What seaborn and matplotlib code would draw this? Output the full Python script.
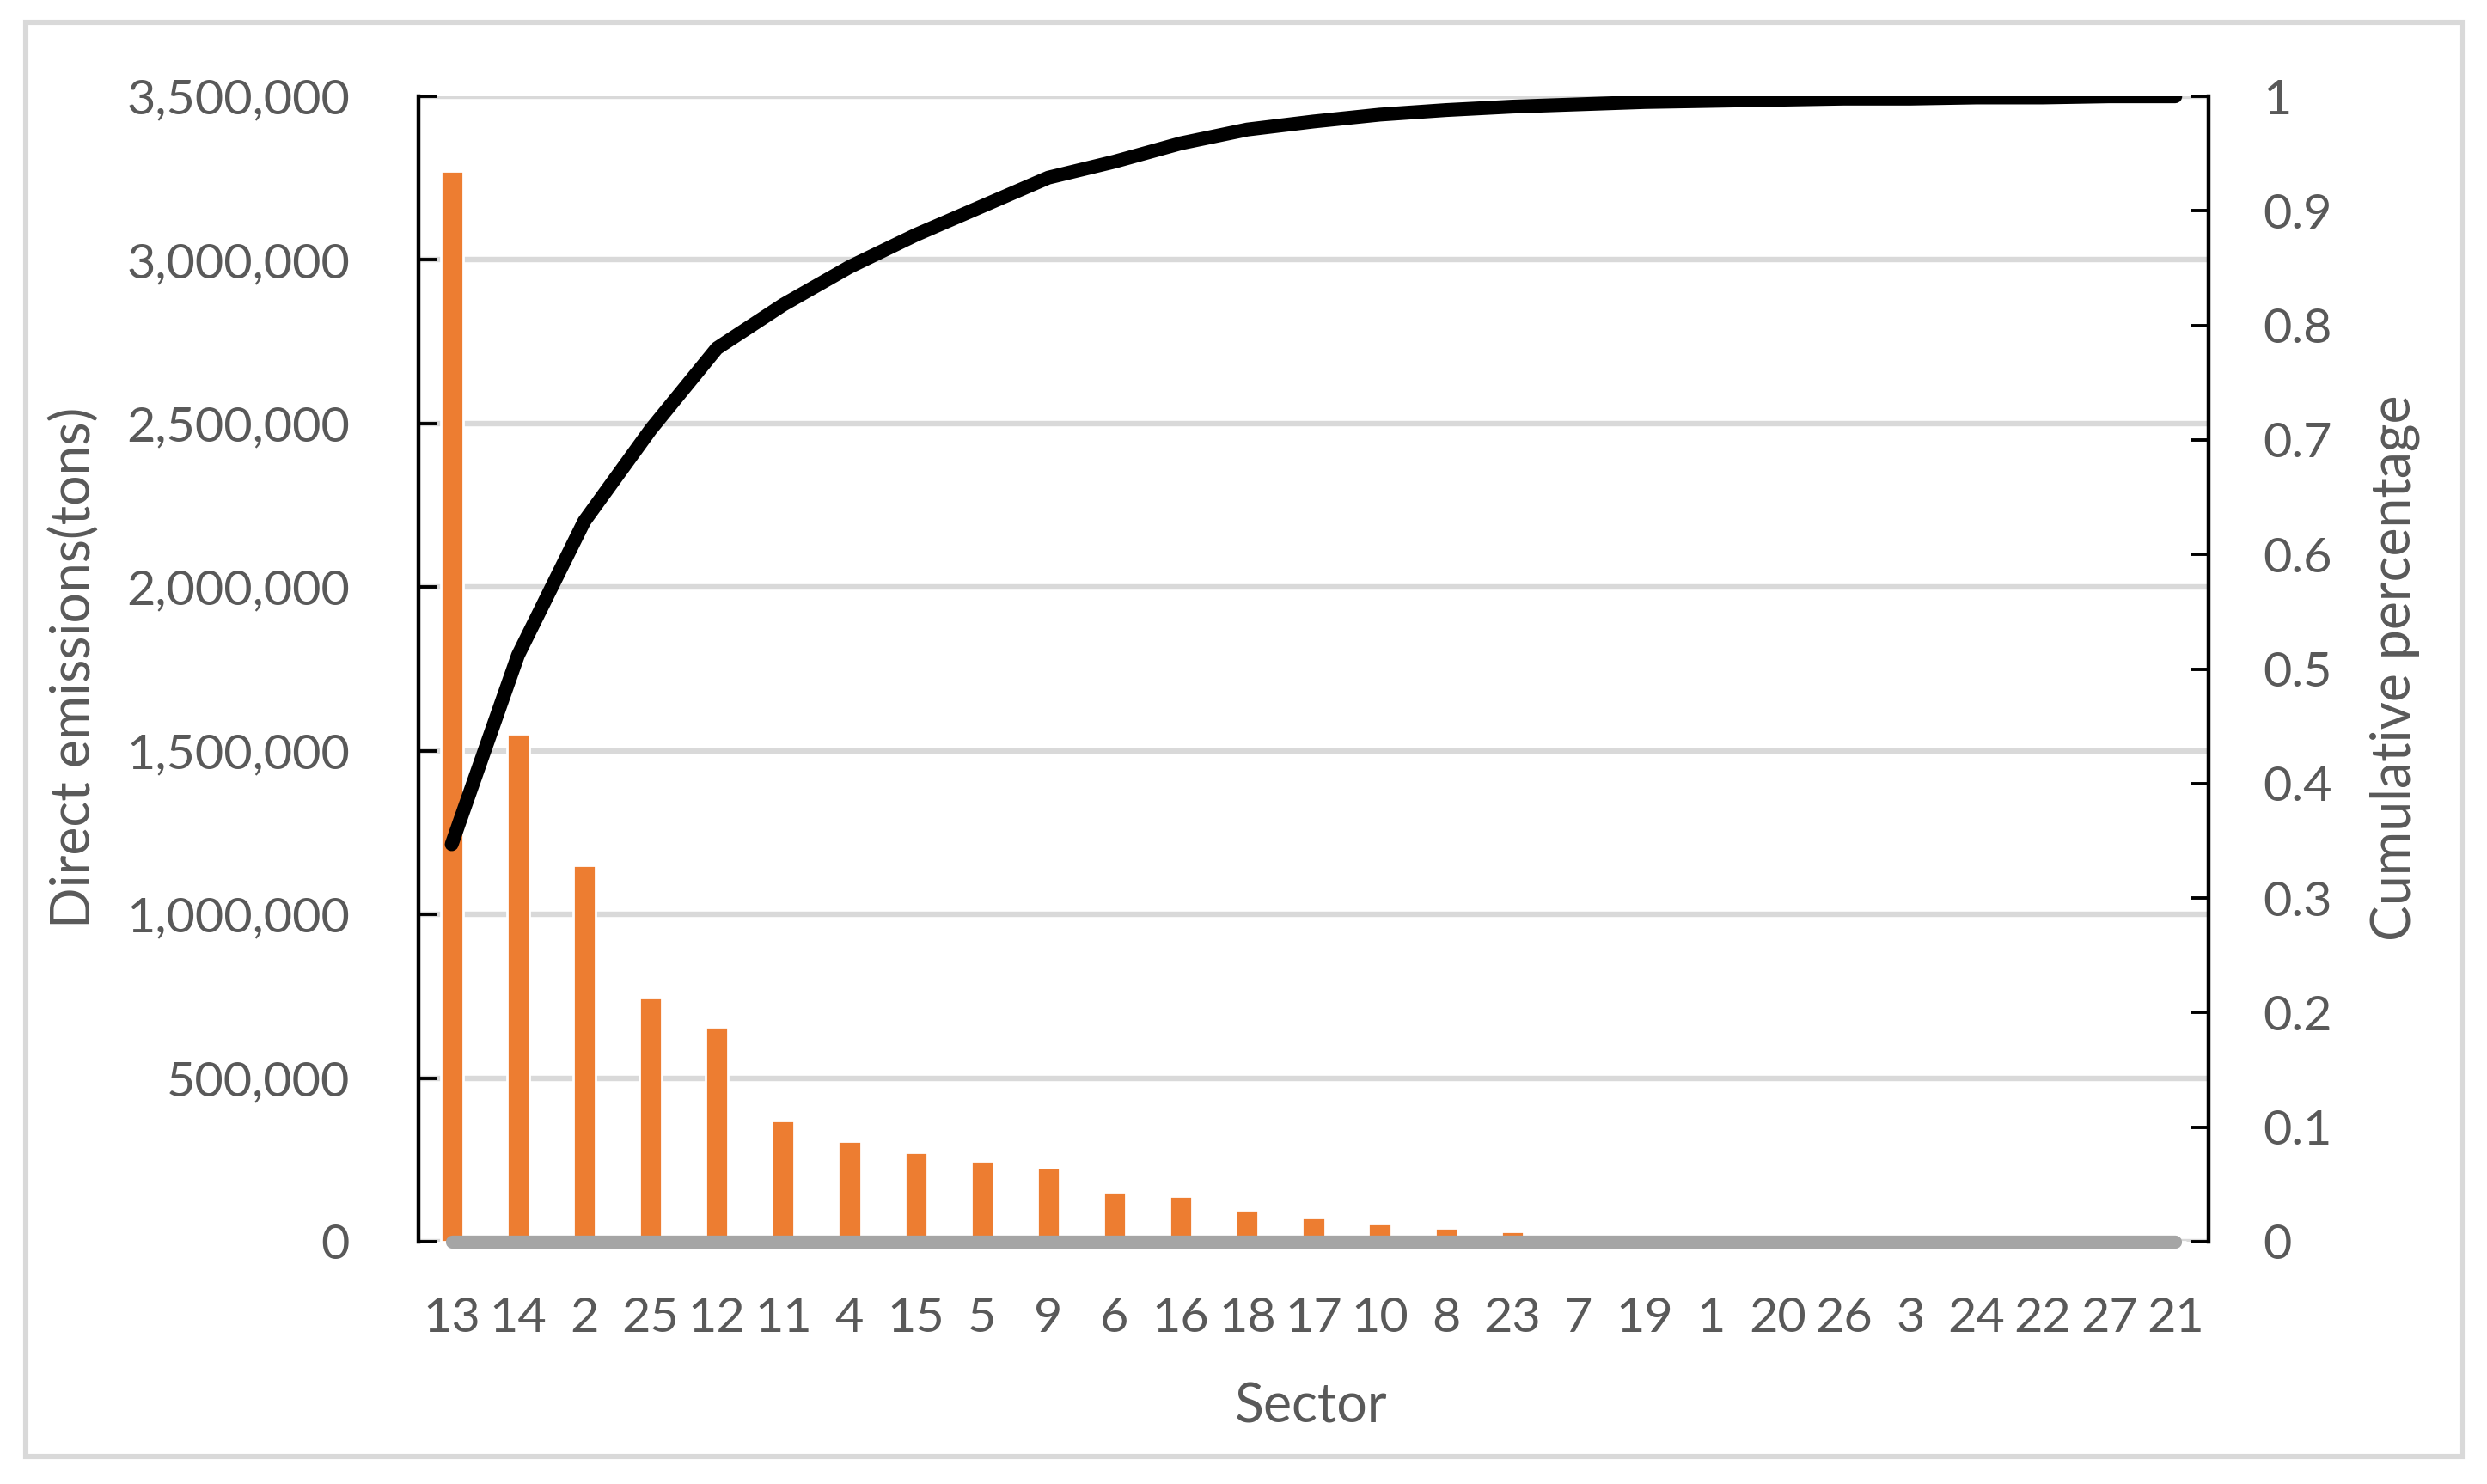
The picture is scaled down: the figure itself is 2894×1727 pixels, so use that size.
import matplotlib
matplotlib.use("Agg")
import matplotlib.pyplot as plt
from matplotlib.ticker import FuncFormatter, MultipleLocator
from matplotlib.patches import Rectangle
import seaborn as sns
import pandas as pd
import numpy as np

# sectors in descending order of direct emissions
sectors = ["13", "14", "2", "25", "12", "11", "4", "15", "5", "9", "6", "16", "18",
           "17", "10", "8", "23", "7", "19", "1", "20", "26", "3", "24", "22", "27", "21"]

# direct emissions (tons)
emissions = [3272000, 1552000, 1151000, 747000, 657000, 371000, 307000, 272000,
             246000, 225000, 153000, 140000, 97000, 73000, 55000, 42000, 31000,
             15000, 10000, 7000, 5000, 4000, 2500, 1500, 600, 300, 100]

# cumulative percentage (black line)
cumulative = [0.347, 0.512, 0.629, 0.709, 0.780, 0.818, 0.851, 0.879, 0.904, 0.929,
              0.943, 0.959, 0.971, 0.978, 0.984, 0.988, 0.991, 0.993, 0.995, 0.996,
              0.997, 0.998, 0.998, 0.999, 0.999, 1.0, 1.0]

# grey zero series along the bottom
baseline = [0] * len(sectors)

text_col = "#595959"

sns.set_style("white")
plt.rcParams["font.family"] = ["Lato", "DejaVu Sans"]

fig = plt.figure(figsize=(14.47, 8.635), dpi=200)
ax = fig.add_axes([0.1683, 0.1633, 0.7197, 0.7718])

df = pd.DataFrame({"Sector": sectors, "Emissions": emissions})
sns.barplot(data=df, x="Sector", y="Emissions", order=sectors, color="#ED7D31",
            saturation=1, width=0.34, errorbar=None, ax=ax)

ax2 = ax.twinx()
pos = np.arange(len(sectors))
sns.lineplot(x=pos, y=baseline, ax=ax2, color="#A5A5A5", lw=5.5,
             solid_capstyle="round", clip_on=False)
sns.lineplot(x=pos, y=cumulative, ax=ax2, color="black", lw=5.8,
             solid_capstyle="round")

ax.set_xlim(-0.5, len(sectors) - 0.5)
ax.set_ylim(0, 3500000)
ax2.set_ylim(0, 1)

ax.yaxis.set_major_locator(MultipleLocator(500000))
ax.yaxis.set_major_formatter(FuncFormatter(lambda v, p: f"{v:,.0f}"))
ax2.yaxis.set_major_locator(MultipleLocator(0.1))
ax2.yaxis.set_major_formatter(FuncFormatter(lambda v, p: f"{v:.1f}".rstrip("0").rstrip(".")))

ax.yaxis.grid(True, color="#D9D9D9", lw=2.3)
ax.set_axisbelow(True)

for s in ["top", "right", "bottom"]:
    ax.spines[s].set_visible(False)
ax.spines["left"].set_color("black")
ax.spines["left"].set_linewidth(1.6)
for s in ["top", "left", "bottom"]:
    ax2.spines[s].set_visible(False)
ax2.spines["right"].set_color("black")
ax2.spines["right"].set_linewidth(1.6)

ax.tick_params(axis="y", direction="in", length=7.6, width=1.4, color="black",
               labelcolor=text_col, labelsize=20.7, pad=28.8)
ax.tick_params(axis="x", length=0, labelcolor=text_col, labelsize=20.7, pad=23)
ax2.tick_params(axis="y", direction="in", length=7.6, width=1.4, color="black",
                labelcolor=text_col, labelsize=20.7, pad=22.7)

ax.set_xlabel("")
ax.set_ylabel("")
ax2.set_ylabel("")

fig.text(87 / 2894, 1 - 777 / 1727, "Direct emissions(tons)", rotation=90,
         ha="center", va="center", fontsize=22.5, color=text_col)
fig.text(2787 / 2894, 1 - 777 / 1727, "Cumulative percentage", rotation=90,
         ha="center", va="center", fontsize=22.5, color=text_col)
fig.text(1526 / 2894, 1 - 1637 / 1727, "Sector", ha="center", va="center",
         fontsize=22.5, color=text_col)

# light frame around the chart
fig.patches.append(Rectangle((30 / 2894, 1 - 1695 / 1727), 2835 / 2894, 1669 / 1727,
                             transform=fig.transFigure, fill=False,
                             edgecolor="#D9D9D9", lw=2.2))

fig.savefig("out.png", dpi=200)
